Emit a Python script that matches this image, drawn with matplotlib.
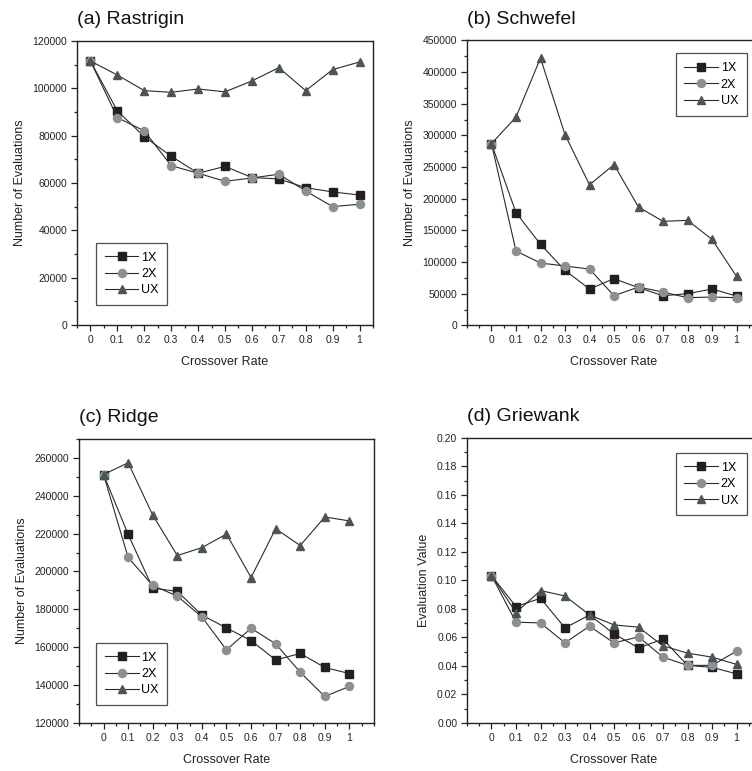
import numpy as np
import matplotlib.pyplot as plt
from matplotlib.ticker import MultipleLocator, FormatStrFormatter, FuncFormatter

plt.rcParams['font.family'] = ['Liberation Sans', 'DejaVu Sans']

rates = [0, 0.1, 0.2, 0.3, 0.4, 0.5, 0.6, 0.7, 0.8, 0.9, 1.0]
labels = ['1X', '2X', 'UX']

# (a) Rastrigin - number of evaluations
rastrigin_1x = [111500, 90400, 79600, 71300, 64100, 67000, 62300, 61700, 58000, 56200, 54900]
rastrigin_2x = [111500, 87600, 82000, 67300, 64100, 60700, 62100, 63700, 56600, 50000, 51000]
rastrigin_ux = [111500, 105600, 99000, 98300, 99700, 98500, 103100, 108700, 99000, 107900, 111100]

# (b) Schwefel
schwefel_1x = [286800, 177900, 127900, 86800, 57400, 73700, 59500, 46800, 50000, 57400, 46300]
schwefel_2x = [286800, 117400, 98400, 93700, 88900, 46800, 60500, 52600, 43700, 44700, 43700]
schwefel_ux = [286800, 328900, 422000, 301000, 222000, 253700, 186800, 164200, 165800, 135800, 77400]

# (c) Ridge
ridge_1x = [251200, 219600, 191200, 189500, 177000, 170200, 163500, 153300, 156700, 149300, 146100]
ridge_2x = [251200, 207400, 192600, 187000, 176000, 158600, 170000, 161800, 146800, 134000, 139300]
ridge_ux = [251200, 257400, 229800, 208400, 212600, 219800, 196800, 222600, 213700, 228800, 226700]

# (d) Griewank - evaluation value
griewank_1x = [0.1034, 0.0817, 0.0875, 0.0667, 0.0758, 0.0625, 0.0527, 0.0588, 0.0404, 0.0390, 0.0345]
griewank_2x = [0.1034, 0.0707, 0.0702, 0.0562, 0.0679, 0.0562, 0.0604, 0.0462, 0.0404, 0.0404, 0.0504]
griewank_ux = [0.1034, 0.0775, 0.0929, 0.0891, 0.0758, 0.0688, 0.0672, 0.0541, 0.0490, 0.0462, 0.0411]

styles = [
    dict(marker='s', color='#231f20', ms=5.3),
    dict(marker='o', color='#8a9096', ms=5.8),
    dict(marker='^', color='#4a5556', ms=6.3),
]

fig = plt.figure(figsize=(7.52, 7.71), dpi=100)

panels = [
    dict(title='(a) Rastrigin', series=[rastrigin_1x, rastrigin_2x, rastrigin_ux],
         pos=[0.1024, 0.5785, 0.3936, 0.3684], xlim=(-0.05, 1.05),
         ylim=(0, 120000), major=20000, minor=10000, ylabel='Number of Evaluations',
         fmt='%d', leg=dict(loc='lower left', bbox_to_anchor=(0.064, 0.07))),
    dict(title='(b) Schwefel', series=[schwefel_1x, schwefel_2x, schwefel_ux],
         pos=[0.621, 0.578, 0.391, 0.3697], xlim=(-0.1, 1.1),
         ylim=(0, 450000), major=50000, minor=25000, ylabel='Number of Evaluations',
         fmt='%d', leg=dict(loc='upper right', bbox_to_anchor=(0.952, 0.954))),
    dict(title='(c) Ridge', series=[ridge_1x, ridge_2x, ridge_ux],
         pos=[0.105, 0.0623, 0.3923, 0.3684], xlim=(-0.1, 1.1),
         ylim=(120000, 270000), major=20000, minor=10000, ylabel='Number of Evaluations',
         fmt='%d', leg=dict(loc='lower left', bbox_to_anchor=(0.058, 0.063))),
    dict(title='(d) Griewank', series=[griewank_1x, griewank_2x, griewank_ux],
         pos=[0.621, 0.0623, 0.391, 0.3697], xlim=(-0.1, 1.1),
         ylim=(0, 0.20), major=0.02, minor=0.01, ylabel='Evaluation Value',
         fmt='%.2f', leg=dict(loc='upper right', bbox_to_anchor=(0.952, 0.947))),
]

for p in panels:
    ax = fig.add_axes(p['pos'])
    for vals, lab, st in zip(p['series'], labels, styles):
        ax.plot(rates, vals, color='#2a2a2a', lw=0.8, marker=st['marker'],
                ms=st['ms'], mfc=st['color'], mec=st['color'], label=lab)
    ax.set_xlim(*p['xlim'])
    ax.set_ylim(*p['ylim'])
    ax.set_xticks(rates)
    ax.xaxis.set_major_formatter(FuncFormatter(lambda v, pos: '%g' % round(v, 2)))
    ax.xaxis.set_minor_locator(MultipleLocator(0.05))
    ax.yaxis.set_major_locator(MultipleLocator(p['major']))
    ax.yaxis.set_minor_locator(MultipleLocator(p['minor']))
    ax.yaxis.set_major_formatter(FormatStrFormatter(p['fmt']))
    ax.tick_params(which='both', direction='out', top=False, right=False,
                   labelsize=7.5, colors='#222222', width=0.9)
    ax.tick_params(which='major', length=4, pad=3)
    ax.tick_params(which='minor', length=2.5)
    for s in ax.spines.values():
        s.set_linewidth(1.0)
        s.set_color('#222222')
    ax.set_xlabel('Crossover Rate', fontsize=9, labelpad=8, color='#222222')
    ax.set_ylabel(p['ylabel'], fontsize=9, labelpad=5, color='#222222')
    ax.set_title(p['title'], loc='left', fontsize=14, pad=12, color='#111111')
    leg = ax.legend(fontsize=9, frameon=True, fancybox=False, borderaxespad=0,
                    handlelength=2.7, handletextpad=0.2, labelspacing=0.35,
                    borderpad=0.7, **p['leg'])
    leg.get_frame().set_edgecolor('#222222')
    leg.get_frame().set_linewidth(0.9)

fig.savefig('out.png', dpi=100)
